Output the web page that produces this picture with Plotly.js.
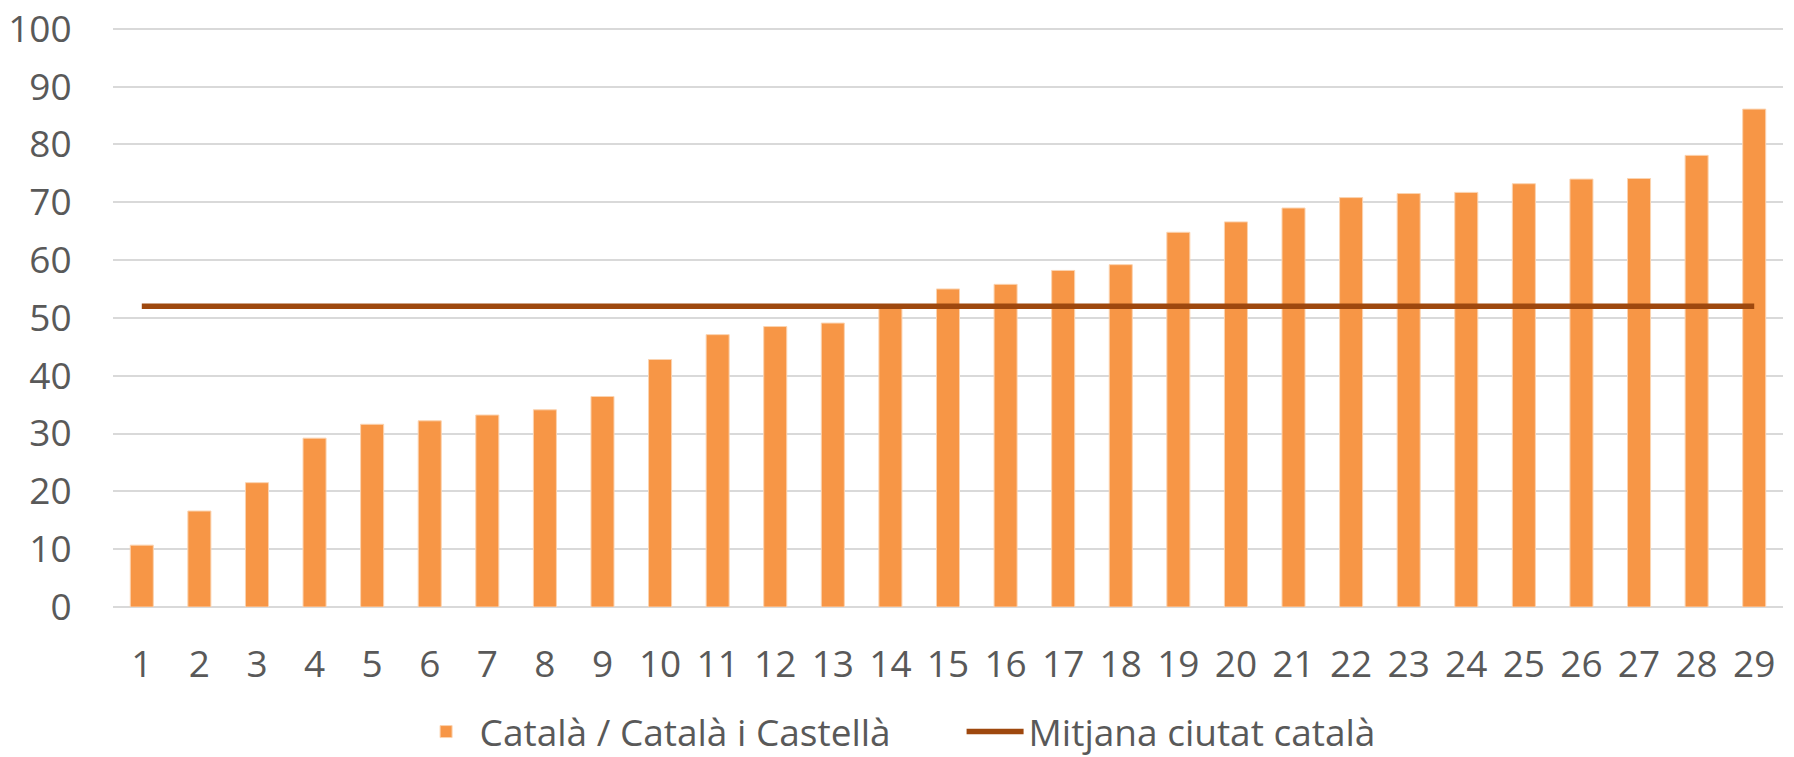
<!DOCTYPE html>
<html>
<head>
<meta charset="utf-8">
<script src="https://cdn.plot.ly/plotly-3.0.1.min.js"></script>
<style>html,body{margin:0;padding:0;background:#fff;}#chart{width:1794px;height:757px;}</style>
</head>
<body>
<div id="chart"></div>
<script>
const categories = ['1','2','3','4','5','6','7','8','9','10','11','12','13','14','15','16','17','18','19','20','21','22','23','24','25','26','27','28','29'];
const catalaValues = [10.7,16.6,21.5,29.2,31.6,32.2,33.2,34.1,36.4,42.8,47.1,48.5,49.1,51.9,55.0,55.8,58.2,59.2,64.8,66.6,69.0,70.8,71.5,71.7,73.2,74.0,74.1,78.1,86.1];
const mitjanaValues = [52,52,52,52,52,52,52,52,52,52,52,52,52,52,52,52,52,52,52,52,52,52,52,52,52,52,52,52,52];
const yTicks = [0,10,20,30,40,50,60,70,80,90,100];
const seriesNames = ['Català / Català i Castellà', 'Mitjana ciutat català'];

const textColor = '#595959';
const fontFamily = '"Open Sans", "Noto Sans", sans-serif';
const fs = 37;

const traces = [
  {
    type: 'bar',
    x: categories,
    y: catalaValues,
    name: seriesNames[0],
    marker: {color: '#F79646', line: {color: '#FBD3B0', width: 1}},
    hoverinfo: 'x+y'
  },
  {
    type: 'scatter',
    mode: 'lines',
    x: categories,
    y: mitjanaValues,
    name: seriesNames[1],
    line: {color: '#9E480E', width: 5.5},
    hoverinfo: 'x+y'
  }
];

const layout = {
  width: 1794,
  height: 757,
  margin: {l: 113, r: 11, t: 27, b: 150},
  paper_bgcolor: '#ffffff',
  plot_bgcolor: '#ffffff',
  font: {family: fontFamily, size: fs, color: textColor},
  bargap: 0.6,
  showlegend: true,
  legend: {
    orientation: 'h',
    xref: 'container',
    yref: 'container',
    x: 0.536,
    xanchor: 'center',
    y: 0.033,
    yanchor: 'middle',
    font: {family: fontFamily, size: fs, color: textColor},
    itemwidth: 57,
    entrywidth: 477,
    entrywidthmode: 'pixels',
    traceorder: 'normal'
  },
  xaxis: {
    type: 'category',
    tickvals: categories,
    ticktext: categories,
    showgrid: false,
    showline: false,
    zeroline: false,
    ticks: 'outside',
    ticklen: 25,
    tickcolor: 'rgba(0,0,0,0)',
    tickfont: {family: fontFamily, size: fs, color: textColor}
  },
  yaxis: {
    range: [0, 100.3],
    tickvals: yTicks,
    ticktext: yTicks.map(String),
    ticklabeloverflow: 'allow',
    showgrid: true,
    gridcolor: '#D9D9D9',
    gridwidth: 2,
    zeroline: true,
    zerolinecolor: '#D9D9D9',
    zerolinewidth: 2,
    showline: false,
    ticks: 'outside',
    ticklen: 33,
    tickcolor: 'rgba(0,0,0,0)',
    tickfont: {family: fontFamily, size: fs, color: textColor}
  }
};

Plotly.newPlot('chart', traces, layout, {displayModeBar: false, staticPlot: true});
</script>
</body>
</html>
